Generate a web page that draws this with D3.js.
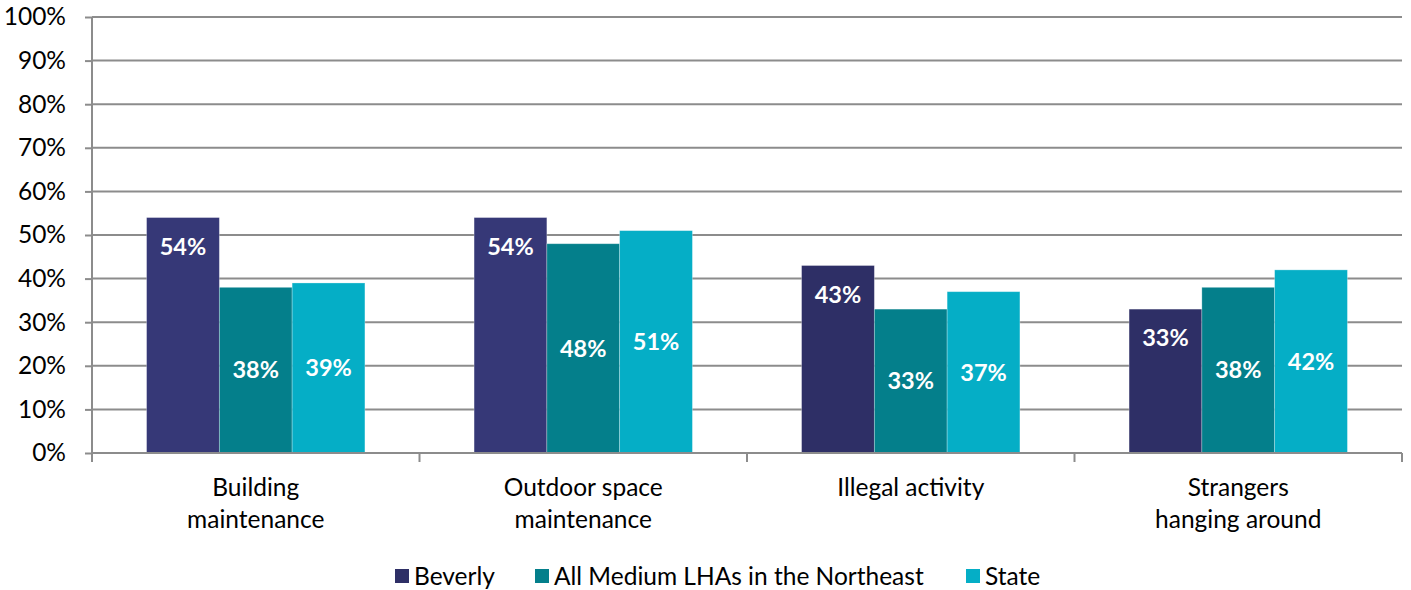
<!DOCTYPE html>
<html><head><meta charset="utf-8">
<script src="https://cdn.jsdelivr.net/npm/d3@7"></script>
<style>body{margin:0;background:#fff}svg{display:block}text{font-family:Lato,"Open Sans",sans-serif}</style>
</head><body>
<svg id="c" width="1411" height="590"></svg>
<script>
const categories = [["Building","maintenance"],["Outdoor space","maintenance"],["Illegal activity"],["Strangers","hanging around"]];
const seriesNames = ["Beverly","All Medium LHAs in the Northeast","State"];
const beverly = [54,54,43,33];
const allMedium = [38,48,33,38];
const state = [39,51,37,42];
const yTicks = [0,10,20,30,40,50,60,70,80,90,100];
const colors = ["#35376f","#047f8b","#05aec6"];
const beverlyPointColors = ["#363877","#363877","#2e2f66","#2e2f66"];

const seriesVals = [beverly, allMedium, state];
const svg = d3.select("#c");
const L = 92, R = 1402, T = 17, B = 453;
const grid = "#8c8c8c";
const y = d3.scaleLinear().domain([0,100]).range([B,T]);
const x0 = d3.scaleBand().domain(d3.range(categories.length)).range([L,R]).padding(0);
const step = x0.bandwidth();
const x1 = d3.scaleBand().domain(d3.range(seriesNames.length)).range([step/6, step*5/6]).padding(0);

// gridlines
svg.append("g").selectAll("line").data(yTicks.filter(d=>d>0)).join("line")
  .attr("x1",L).attr("x2",R).attr("y1",d=>y(d)).attr("y2",d=>y(d))
  .attr("stroke",grid).attr("stroke-width",2);

// y axis
const ya = svg.append("g").attr("transform",`translate(${L},0)`)
  .call(d3.axisLeft(y).tickValues(yTicks).tickFormat(d=>d+"%").tickSize(7).tickPadding(19));
ya.select(".domain").attr("stroke",grid).attr("stroke-width",2).attr("d",`M0,${T}V${B}`);
ya.selectAll(".tick line").attr("stroke",grid).attr("stroke-width",2);
ya.selectAll(".tick text").attr("font-size",24.5).attr("fill","#000").style("font-family","Lato");

// bars
const groups = svg.append("g").selectAll("g").data(categories).join("g")
  .attr("transform",(d,i)=>`translate(${x0(i)},0)`);
groups.selectAll("rect").data((d,i)=>seriesVals.map((s,j)=>({i,j,v:s[i]}))).join("rect")
  .attr("x",d=>x1(d.j)).attr("width",x1.bandwidth())
  .attr("y",d=>y(d.v)).attr("height",d=>B-y(d.v))
  .attr("fill",d=>d.j===0 ? beverlyPointColors[d.i] : colors[d.j])
  .attr("stroke","rgba(255,255,255,0.35)").attr("stroke-width",0.8);

// value labels: first series inside end, others centered
groups.selectAll("text.v").data((d,i)=>seriesVals.map((s,j)=>({j,v:s[i]}))).join("text")
  .attr("class","v")
  .attr("x",d=>x1(d.j)+x1.bandwidth()/2)
  .attr("y",d=>d.j===0 ? y(d.v)+29 : (y(d.v)+B)/2)
  .attr("dy","0.35em").attr("text-anchor","middle")
  .attr("fill","#fff").attr("font-weight","bold").attr("font-size",23.5)
  .text(d=>d.v+"%");

// x axis
const xa = svg.append("g");
xa.append("line").attr("x1",L).attr("x2",R).attr("y1",B).attr("y2",B).attr("stroke",grid).attr("stroke-width",2);
xa.selectAll("line.t").data(d3.range(categories.length+1)).join("line").attr("class","t")
  .attr("x1",i=>L+i*step).attr("x2",i=>L+i*step).attr("y1",B).attr("y2",B+9)
  .attr("stroke",grid).attr("stroke-width",2);
xa.selectAll("text").data(categories).join("text")
  .attr("x",(d,i)=>x0(i)+step/2).attr("y",487).attr("text-anchor","middle")
  .attr("font-size",24.5).attr("fill","#000")
  .selectAll("tspan").data(d=>d).join("tspan")
  .attr("x",function(){return this.parentNode.getAttribute("x");})
  .attr("dy",(d,k)=>k===0?"0.35em":"32px").text(d=>d);

// legend
const legX = [395, 535, 966];
const lg = svg.append("g").selectAll("g").data(seriesNames).join("g")
  .attr("transform",(d,i)=>`translate(${legX[i]},576)`);
lg.append("rect").attr("x",0).attr("y",-7).attr("width",14).attr("height",14).attr("fill",(d,i)=>i===0?"#2e2f66":colors[i]);
lg.append("text").attr("x",19).attr("dy","0.35em").attr("font-size",24.5).attr("fill","#000").text(d=>d);
</script>
</body></html>
